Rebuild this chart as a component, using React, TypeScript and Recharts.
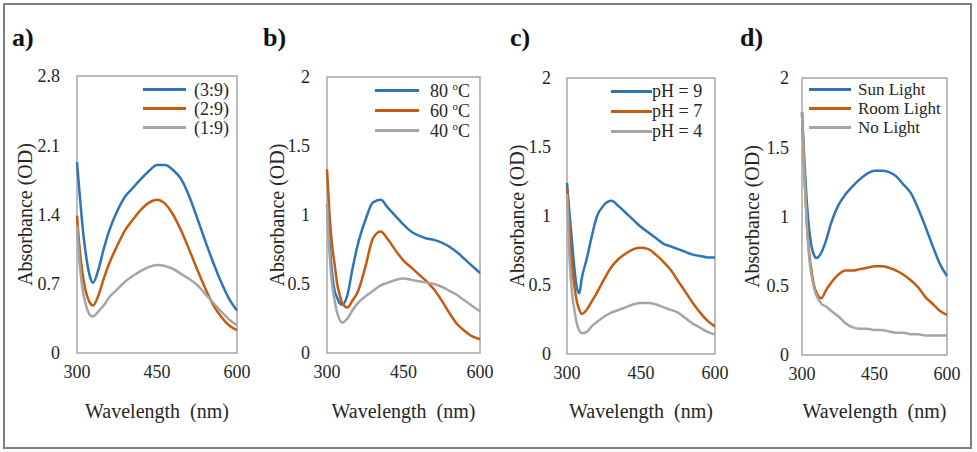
import React from 'react';
import { LineChart, Line, XAxis, YAxis, ReferenceArea, Legend } from 'recharts';

// wavelength grid (nm), shared by every curve
const wavelengths = [300, 305, 310, 315, 320, 325, 330, 340, 350, 360, 375, 390, 405, 420, 435, 450, 465, 480, 495, 510, 525, 540, 555, 570, 585, 600];

// a) ratio
const ratio39 = [1.93, 1.6, 1.3, 1.06, 0.88, 0.76, 0.71, 0.84, 1.05, 1.23, 1.43, 1.58, 1.67, 1.76, 1.84, 1.9, 1.9, 1.85, 1.76, 1.59, 1.37, 1.14, 0.92, 0.72, 0.55, 0.43];
const ratio29 = [1.39, 1.05, 0.82, 0.66, 0.56, 0.5, 0.48, 0.58, 0.75, 0.9, 1.08, 1.24, 1.35, 1.45, 1.52, 1.55, 1.51, 1.4, 1.24, 1.05, 0.85, 0.66, 0.49, 0.37, 0.28, 0.23];
const ratio19 = [1.29, 0.9, 0.66, 0.52, 0.43, 0.38, 0.37, 0.42, 0.48, 0.56, 0.64, 0.72, 0.78, 0.83, 0.87, 0.89, 0.88, 0.85, 0.8, 0.75, 0.69, 0.6, 0.51, 0.42, 0.34, 0.28];

// b) temperature
const temp80 = [1.08, 0.8, 0.58, 0.45, 0.4, 0.36, 0.35, 0.42, 0.61, 0.78, 0.96, 1.09, 1.11, 1.05, 0.99, 0.93, 0.88, 0.85, 0.83, 0.82, 0.8, 0.77, 0.73, 0.68, 0.63, 0.58];
const temp60 = [1.33, 1.0, 0.78, 0.64, 0.5, 0.42, 0.36, 0.33, 0.38, 0.44, 0.62, 0.83, 0.88, 0.82, 0.74, 0.67, 0.62, 0.57, 0.52, 0.46, 0.38, 0.29, 0.21, 0.16, 0.12, 0.1];
const temp40 = [1.08, 0.72, 0.5, 0.38, 0.29, 0.24, 0.22, 0.25, 0.31, 0.36, 0.41, 0.45, 0.49, 0.51, 0.53, 0.54, 0.53, 0.52, 0.51, 0.5, 0.48, 0.45, 0.42, 0.38, 0.34, 0.3];

// c) pH
const ph9 = [1.24, 1.02, 0.82, 0.62, 0.48, 0.44, 0.55, 0.69, 0.85, 0.99, 1.08, 1.11, 1.07, 1.02, 0.97, 0.92, 0.88, 0.84, 0.8, 0.78, 0.76, 0.74, 0.72, 0.71, 0.7, 0.7];
const ph7 = [1.2, 0.9, 0.65, 0.49, 0.38, 0.32, 0.29, 0.32, 0.38, 0.44, 0.54, 0.63, 0.69, 0.73, 0.76, 0.77, 0.76, 0.72, 0.67, 0.61, 0.53, 0.45, 0.37, 0.3, 0.24, 0.2];
const ph4 = [1.16, 0.7, 0.45, 0.32, 0.22, 0.17, 0.15, 0.16, 0.2, 0.23, 0.27, 0.3, 0.32, 0.34, 0.36, 0.37, 0.37, 0.36, 0.34, 0.32, 0.3, 0.26, 0.22, 0.19, 0.16, 0.14];

// d) light
const sunLight = [1.75, 1.4, 1.1, 0.9, 0.78, 0.72, 0.7, 0.74, 0.83, 0.95, 1.08, 1.16, 1.22, 1.27, 1.31, 1.33, 1.33, 1.32, 1.29, 1.23, 1.17, 1.06, 0.93, 0.79, 0.66, 0.57];
const roomLight = [1.75, 1.3, 0.95, 0.73, 0.6, 0.5, 0.45, 0.41, 0.47, 0.52, 0.58, 0.61, 0.61, 0.62, 0.63, 0.64, 0.64, 0.63, 0.61, 0.58, 0.54, 0.49, 0.42, 0.37, 0.32, 0.29];
const noLight = [1.75, 1.3, 0.95, 0.7, 0.57, 0.48, 0.43, 0.37, 0.35, 0.32, 0.28, 0.23, 0.2, 0.19, 0.19, 0.18, 0.18, 0.17, 0.16, 0.16, 0.15, 0.15, 0.14, 0.14, 0.14, 0.14];

const xTicks = [300, 450, 600];
const yTicksA = [0, 0.7, 1.4, 2.1, 2.8];
const yTicksB = [0, 0.5, 1, 1.5, 2];
const panelTags = ['a)', 'b)', 'c)', 'd)'];

const BLUE = '#2E75B6';
const ORANGE = '#C55A11';
const GRAY = '#A5A5A5';
const TEXT = '#262626';
const SERIF = 'Liberation Serif';
const CHART_H = 440;

const toRows = (s1: number[], s2: number[], s3: number[]) =>
    wavelengths.map((w, i) => ({ w, s1: s1[i], s2: s2[i], s3: s3[i] }));

type LegendSpec = { x: number; y: number; rowH: number; lineLen: number; gap: number; fontSize: number };

const legendLabel = (v: string) => {
    // "80 oC" -> 80 with a raised small o
    if (v.endsWith('oC')) {
        return <>{v.slice(0, -2)}<sup style={{ fontSize: '0.6em' }}>o</sup>C</>;
    }
    return v;
};

const renderLegend = (spec: LegendSpec) => (props: any) => (
    <div style={{ fontFamily: SERIF, fontSize: spec.fontSize, color: TEXT }}>
        {(props.payload || []).map((p: any, i: number) => (
            <div key={i} style={{ display: 'flex', alignItems: 'center', height: spec.rowH, whiteSpace: 'nowrap' }}>
                <span style={{ display: 'inline-block', width: spec.lineLen, height: 3, background: p.color, marginRight: spec.gap }} />
                <span style={{ lineHeight: 1 }}>{legendLabel(String(p.value))}</span>
            </div>
        ))}
    </div>
);

type PanelProps = {
    left: number;
    plotLeft: number;
    plotRight: number;
    plotTop: number;
    plotBottom: number;
    tickGap: number;
    yMax: number;
    yTicks: number[];
    names: string[];
    series: number[][];
    legend: LegendSpec;
};

const Panel = ({ left, plotLeft, plotRight, plotTop, plotBottom, tickGap, yMax, yTicks, names, series, legend }: PanelProps) => {
    const rows = toRows(series[0], series[1], series[2]);
    const width = plotRight - left + 30;
    const tickStyle = { fontSize: 18, fill: TEXT, fontFamily: SERIF };
    const titleStyle = { fontSize: 20, fill: TEXT, fontFamily: SERIF };
    return (
        <div style={{ position: 'absolute', left, top: 0 }}>
            <LineChart width={width} height={CHART_H} data={rows} margin={{ top: plotTop, right: 30, bottom: 0, left: 0 }} style={{ fontFamily: SERIF }}>
                <XAxis
                    dataKey="w"
                    type="number"
                    domain={[300, 600]}
                    ticks={xTicks}
                    interval={0}
                    height={CHART_H - plotBottom}
                    axisLine={false}
                    tickLine={false}
                    tickSize={0}
                    tickMargin={12}
                    tick={tickStyle}
                    label={{ value: 'Wavelength\u00A0 (nm)', position: 'insideBottom', offset: 22, ...titleStyle }}
                />
                <YAxis
                    type="number"
                    domain={[0, yMax]}
                    ticks={yTicks}
                    interval={0}
                    width={plotLeft - left}
                    axisLine={false}
                    tickLine={false}
                    tickSize={0}
                    tickMargin={tickGap}
                    tick={tickStyle}
                    label={{ value: 'Absorbance (OD)', angle: -90, position: 'insideLeft', offset: 20, ...titleStyle, style: { textAnchor: 'middle' } }}
                />
                <ReferenceArea x1={300} x2={600} y1={0} y2={yMax} fill="none" stroke="#A6A6A6" strokeWidth={1.5} />
                <Legend
                    layout="vertical"
                    align="center"
                    verticalAlign="middle"
                    itemSorter="dataKey"
                    wrapperStyle={{ left: legend.x - left, top: legend.y, width: 140, height: 'auto' }}
                    content={renderLegend(legend)}
                />
                <Line type="monotone" dataKey="s1" name={names[0]} stroke={BLUE} strokeWidth={2.5} dot={false} isAnimationActive={false} />
                <Line type="monotone" dataKey="s2" name={names[1]} stroke={ORANGE} strokeWidth={2.5} dot={false} isAnimationActive={false} />
                <Line type="monotone" dataKey="s3" name={names[2]} stroke={GRAY} strokeWidth={2.5} dot={false} isAnimationActive={false} />
            </LineChart>
        </div>
    );
};

const tagLeft = [12, 263, 510, 740];

const App = () => {
    return (
        <div style={{ position: 'absolute', left: 0, top: 0, width: 977, height: 452, background: '#fff' }}>
            <div style={{ position: 'absolute', left: 3, top: 3, width: 965, height: 442, border: '2px solid #7F7F7F' }} />
            {panelTags.map((t, i) => (
                <div key={t} style={{ position: 'absolute', left: tagLeft[i], top: 25, fontFamily: SERIF, fontWeight: 'bold', fontSize: 26, lineHeight: '26px', color: '#111' }}>
                    {t}
                </div>
            ))}

            {/* a) mixing ratio */}
            <Panel
                left={5} plotLeft={77} plotRight={237} plotTop={76} plotBottom={353} tickGap={17}
                yMax={2.8} yTicks={yTicksA}
                names={['(3:9)', '(2:9)', '(1:9)']}
                series={[ratio39, ratio29, ratio19]}
                legend={{ x: 143, y: 80, rowH: 19, lineLen: 43, gap: 8, fontSize: 18 }}
            />

            {/* b) temperature */}
            <Panel
                left={257} plotLeft={327} plotRight={480} plotTop={77} plotBottom={353} tickGap={17}
                yMax={2} yTicks={yTicksB}
                names={['80 oC', '60 oC', '40 oC']}
                series={[temp80, temp60, temp40]}
                legend={{ x: 375, y: 80, rowH: 20, lineLen: 44, gap: 11, fontSize: 18 }}
            />

            {/* c) pH */}
            <Panel
                left={497} plotLeft={567} plotRight={715} plotTop={78} plotBottom={354} tickGap={16}
                yMax={2} yTicks={yTicksB}
                names={['pH = 9', 'pH = 7', 'pH = 4']}
                series={[ph9, ph7, ph4]}
                legend={{ x: 611, y: 81, rowH: 20, lineLen: 41, gap: 0, fontSize: 18 }}
            />

            {/* d) light */}
            <Panel
                left={732} plotLeft={802} plotRight={947} plotTop={78} plotBottom={355} tickGap={13}
                yMax={2} yTicks={yTicksB}
                names={['Sun Light', 'Room Light', 'No Light']}
                series={[sunLight, roomLight, noLight]}
                legend={{ x: 809, y: 80, rowH: 19, lineLen: 42, gap: 7, fontSize: 17 }}
            />
        </div>
    );
};

export default App;
